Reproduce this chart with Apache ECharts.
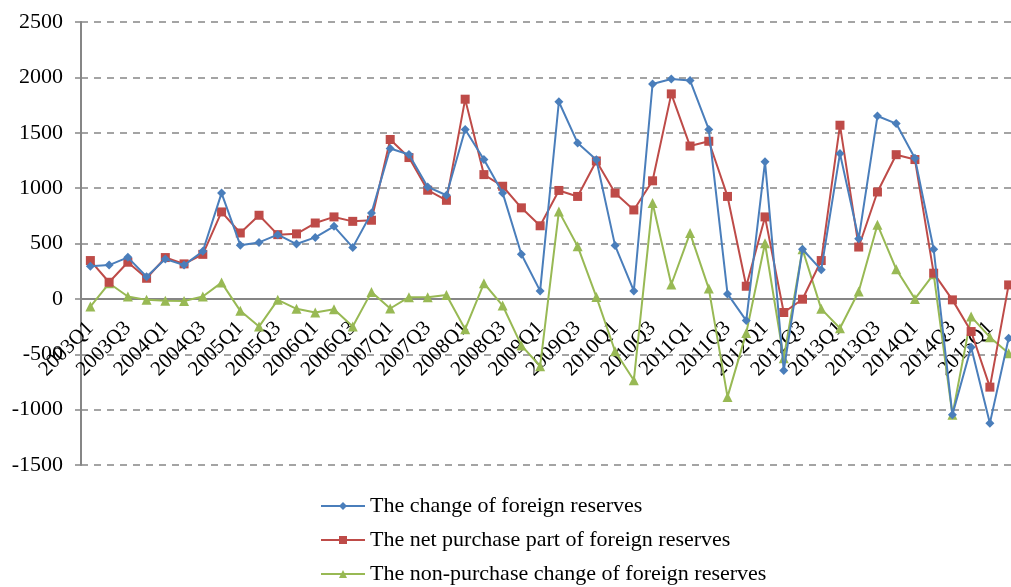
<!DOCTYPE html>
<html>
<head>
<meta charset="utf-8">
<script src="https://cdn.jsdelivr.net/npm/echarts/dist/echarts.min.js"></script>
<style>
  html, body { margin: 0; padding: 0; background: #fff; }
  #chart { width: 1011px; height: 587px; }
</style>
</head>
<body>
<div id="chart"></div>
<script>
// quarters 2003Q1 .. 2015Q2
const quarters = [];
for (let y = 2003; y <= 2015; y++) {
  for (let q = 1; q <= 4; q++) {
    if (y === 2015 && q > 2) break;
    quarters.push(y + 'Q' + q);
  }
}

// the change of foreign reserves
const changeReserves = [
  295, 305, 375, 200, 360, 305, 430, 955, 485, 510,
  580, 495, 555, 655, 465, 775, 1358, 1303, 1011, 936,
  1529, 1258, 957, 403, 72, 1780, 1408, 1257, 481, 72,
  1940, 1985, 1972, 1530, 45, -196, 1238, -647, 448, 262,
  1313, 542, 1651, 1583, 1270, 448, -1047, -436, -1122, -355
];

// the net purchase part of foreign reserves
const netPurchase = [
  346, 150, 331, 186, 373, 316, 402, 785, 595, 755,
  580, 587, 685, 740, 700, 710, 1439, 1276, 981, 890,
  1803, 1122, 1017, 822, 660, 979, 925, 1245, 955, 803,
  1066, 1851, 1380, 1423, 925, 114, 740, -123, -3, 346,
  1568, 468, 965, 1302, 1258, 232, -9, -295, -797, 126
];

// the non-purchase change of foreign reserves
const nonPurchase = [
  -69, 141, 21, -9, -18, -20, 21, 147, -108, -250,
  -9, -90, -123, -93, -250, 63, -87, 15, 15, 35,
  -274, 141, -60, -420, -608, 790, 476, 18, -473, -735,
  866, 130, 594, 93, -885, -307, 502, -536, 448, -90,
  -265, 66, 670, 268, 0, 223, -1047, -160, -346, -490
];

const seriesNames = [
  'The change of foreign reserves',
  'The net purchase part of foreign reserves',
  'The non-purchase change of foreign reserves'
];

const font = 'Liberation Serif';
const axisGray = '#868686';

const chart = echarts.init(document.getElementById('chart'));
chart.setOption({
  animation: false,
  textStyle: { fontFamily: font },
  grid: {
    left: 81,
    top: 22,
    width: 937,   // plot runs a little past the right edge, as in the original
    bottom: 122,
    outerBoundsMode: 'none'
  },
  legend: {
    orient: 'vertical',
    left: 320,
    top: 495,
    height: 92,
    padding: 0,
    itemWidth: 44,
    itemHeight: 10,
    itemGap: 12,
    textStyle: { fontFamily: font, fontSize: 22, color: '#000' },
    data: seriesNames
  },
  xAxis: {
    type: 'category',
    data: quarters,
    boundaryGap: true,
    // move the whole axis up to the zero line
    offset: -166,
    axisLine: { onZero: false, lineStyle: { color: axisGray, width: 2 } },
    axisTick: { interval: 0, length: 5, lineStyle: { color: axisGray, width: 1.5 } },
    axisLabel: {
      interval: 1,
      rotate: 45,
      margin: 26,
      fontFamily: font,
      fontSize: 21,
      color: '#000'
    },
    splitLine: { show: false }
  },
  yAxis: {
    type: 'value',
    min: -1500,
    max: 2500,
    interval: 500,
    axisLine: { show: true, lineStyle: { color: axisGray, width: 2 } },
    axisTick: { show: true, length: 6, lineStyle: { color: axisGray, width: 1.5 } },
    axisLabel: {
      margin: 18,
      fontFamily: font,
      fontSize: 22,
      color: '#000',
      formatter: v => String(v)
    },
    splitLine: {
      show: true,
      lineStyle: { color: axisGray, width: 1.5, type: [7, 6] }
    }
  },
  series: [
    {
      name: seriesNames[0],
      type: 'line',
      data: changeReserves,
      symbol: 'diamond',
      symbolSize: 9,
      showAllSymbol: true,
      z: 3,
      lineStyle: { color: '#4A7EBB', width: 2 },
      itemStyle: { color: '#4A7EBB' }
    },
    {
      name: seriesNames[1],
      type: 'line',
      data: netPurchase,
      symbol: 'rect',
      symbolSize: 9,
      showAllSymbol: true,
      z: 2,
      lineStyle: { color: '#BE4B48', width: 2 },
      itemStyle: { color: '#BE4B48' }
    },
    {
      name: seriesNames[2],
      type: 'line',
      data: nonPurchase,
      symbol: 'triangle',
      symbolSize: 10,
      showAllSymbol: true,
      z: 1,
      lineStyle: { color: '#98B954', width: 2 },
      itemStyle: { color: '#98B954' }
    }
  ]
});
</script>
</body>
</html>
